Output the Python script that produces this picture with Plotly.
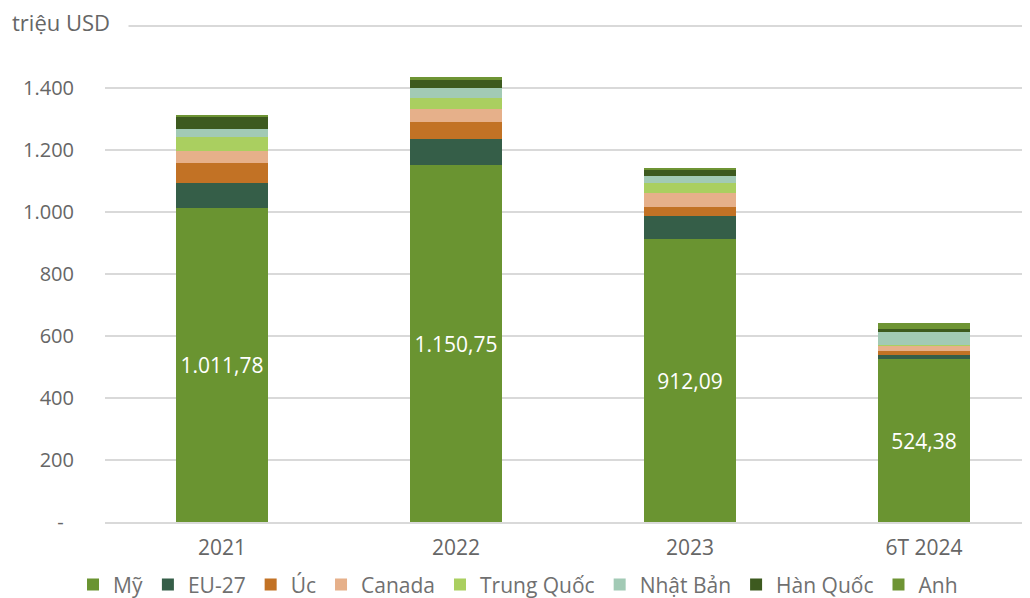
import plotly.graph_objects as go

categories = ["2021", "2022", "2023", "6T 2024"]
series_names = ["Mỹ", "EU-27", "Úc", "Canada", "Trung Quốc", "Nhật Bản", "Hàn Quốc", "Anh"]
my = [1011.78, 1150.75, 912.09, 524.38]
eu27 = [82.6, 83.9, 76.1, 13.9]
uc = [64.5, 56.8, 29.0, 12.9]
canada = [37.7, 41.9, 43.2, 17.4]
trung_quoc = [44.0, 35.5, 32.3, 2.0]
nhat_ban = [26.8, 31.2, 22.6, 43.0]
han_quoc = [39.8, 26.9, 22.6, 9.7]
anh = [5.4, 7.5, 3.2, 18.4]
my_labels = ["1.011,78", "1.150,75", "912,09", "524,38"]
colors = ["#6A9431", "#355E48", "#C27225", "#E6B08A", "#AACF60", "#A2CAB5", "#3D5A1F", "#6E9434"]
y_tickvals = [0, 200, 400, 600, 800, 1000, 1200, 1400, 1600]
y_ticktext = ["-\u00a0\u00a0", "200", "400", "600", "800", "1.000", "1.200", "1.400", ""]

values = [my, eu27, uc, canada, trung_quoc, nhat_ban, han_quoc, anh]
font_family = "'Open Sans', Lato, sans-serif"
text_color = "#666666"
fig = go.Figure()
for i, (name, vals) in enumerate(zip(series_names, values)):
    kw = {}
    if i == 0:
        kw = dict(text=my_labels, textposition="inside", insidetextanchor="middle",
                  textfont=dict(color="white", size=21, family=font_family), texttemplate="%{text}")
    fig.add_trace(go.Bar(x=categories, y=vals, name=name, marker=dict(color=colors[i], line=dict(width=0)),
                         width=0.393, hoverinfo="skip", **kw))

fig.update_layout(
    barmode="stack",
    width=1022, height=590,
    margin=dict(l=97, r=0, t=16, b=76, autoexpand=False),
    plot_bgcolor="white", paper_bgcolor="white",
    font=dict(family=font_family, color=text_color, size=19),
    xaxis=dict(range=[-0.5, 3.453], showline=True, linecolor="#d9d9d9", linewidth=1.5,
               tickfont=dict(size=21, color=text_color), ticks="", ticklabelstandoff=6),
    yaxis=dict(range=[0, 1606.5], tickvals=y_tickvals, ticktext=y_ticktext, showgrid=True,
               gridcolor="#d9d9d9", gridwidth=1.5, zeroline=False, ticks="",
               tickfont=dict(size=20, color=text_color), ticklabelstandoff=30),
    legend=dict(orientation="h", x=0.4465, xanchor="center", y=-0.126, yanchor="middle",
                font=dict(size=21, color="#707070"), itemwidth=30, tracegroupgap=0,
                traceorder="normal"),
    showlegend=True,
    annotations=[dict(text="triệu USD\u00a0\u00a0\u00a0", xref="paper", yref="paper", x=-0.103, y=1.004,
                      xanchor="left", yanchor="middle", showarrow=False, bgcolor="white",
                      font=dict(size=22, color=text_color))],
)
fig.write_html("out.html")
